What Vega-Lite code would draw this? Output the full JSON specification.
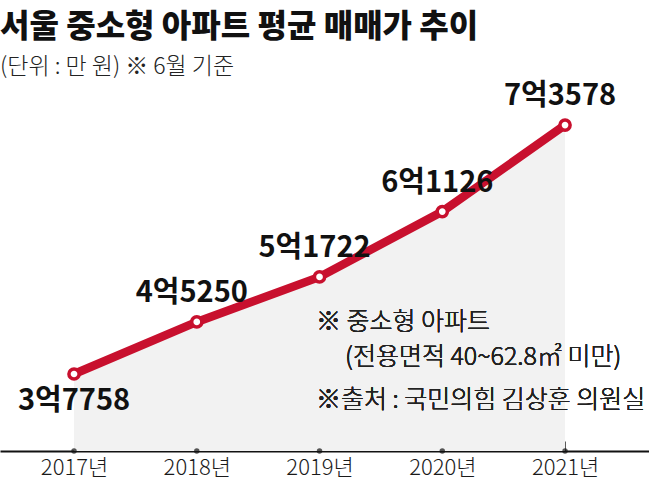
{
  "$schema": "https://vega.github.io/schema/vega-lite/v6.json",
  "autosize": "none",
  "padding": {"left": 0, "top": 100, "right": 0, "bottom": 42},
  "width": 649,
  "height": 351,
  "background": "white",
  "title": {
    "text": "서울 중소형 아파트 평균 매매가 추이",
    "subtitle": "(단위 : 만 원)  ※ 6월 기준",
    "anchor": "start",
    "frame": "group",
    "offset": 2,
    "font": "Noto Sans CJK KR",
    "fontSize": 32,
    "fontWeight": 900,
    "color": "#111111",
    "subtitleFont": "Noto Sans CJK KR",
    "subtitleFontSize": 23,
    "subtitleFontWeight": 300,
    "subtitleColor": "#222222",
    "subtitlePadding": 12
  },
  "config": {"view": {"stroke": null}},
  "data": {
    "values": [
      {"year": 2017, "price": 37758, "label": "3억7758"},
      {"year": 2018, "price": 45250, "label": "4억5250"},
      {"year": 2019, "price": 51722, "label": "5억1722"},
      {"year": 2020, "price": 61126, "label": "6억1126"},
      {"year": 2021, "price": 73578, "label": "7억3578"}
    ]
  },
  "encoding": {
    "x": {
      "field": "year",
      "type": "quantitative",
      "scale": {"domain": [2016.397, 2021.684], "nice": false, "zero": false},
      "axis": {
        "values": [2017, 2018, 2019, 2020, 2021],
        "labelExpr": "datum.value + '년'",
        "title": null,
        "grid": false,
        "domainColor": "#111111",
        "domainWidth": 2,
        "tickColor": "#555555",
        "tickWidth": 1,
        "tickSize": -10,
        "labelFont": "Noto Sans CJK KR",
        "labelFontSize": 22,
        "labelFontWeight": 300,
        "labelColor": "#1a1a1a",
        "labelPadding": 16,
        "labelFlush": false
      }
    },
    "y": {
      "field": "price",
      "type": "quantitative",
      "scale": {"domain": [26679, 77182], "nice": false, "zero": false},
      "axis": null
    }
  },
  "layer": [
    {
      "mark": {"type": "area", "color": "#f2f2f2"},
      "encoding": {"y2": {"datum": 26679}}
    },
    {
      "mark": {"type": "point", "filled": true, "color": "#111111", "size": 30},
      "encoding": {"y": {"datum": 26679}}
    },
    {
      "mark": {"type": "line", "color": "#c8102e", "strokeWidth": 8.5}
    },
    {
      "mark": {"type": "point", "filled": true, "fill": "white", "stroke": "#c8102e", "strokeWidth": 3.5, "size": 104, "opacity": 1}
    },
    {
      "transform": [{"filter": "datum.year == 2017"}],
      "mark": {"type": "text", "font": "Noto Sans CJK KR", "fontSize": 29, "fontWeight": "bold", "color": "#111111", "dy": 27, "align": "center", "baseline": "middle"},
      "encoding": {"text": {"field": "label"}}
    },
    {
      "transform": [{"filter": "datum.year != 2017"}],
      "mark": {"type": "text", "font": "Noto Sans CJK KR", "fontSize": 29, "fontWeight": "bold", "color": "#111111", "dy": -29, "dx": -5, "align": "center", "baseline": "middle"},
      "encoding": {"text": {"field": "label"}}
    },
    {
      "mark": {"type": "text", "font": "Noto Sans CJK KR", "fontSize": 25, "fontWeight": 300, "color": "#222222", "align": "left", "baseline": "middle"},
      "encoding": {"x": {"datum": 2018.971}, "y": {"datum": 45240}, "text": {"value": "※ 중소형 아파트"}}
    },
    {
      "mark": {"type": "text", "font": "Noto Sans CJK KR", "fontSize": 25, "fontWeight": 300, "color": "#222222", "align": "left", "baseline": "middle"},
      "encoding": {"x": {"datum": 2019.208}, "y": {"datum": 40204}, "text": {"value": "(전용면적 40~62.8㎡ 미만)"}}
    },
    {
      "mark": {"type": "text", "font": "Noto Sans CJK KR", "fontSize": 25, "fontWeight": 300, "color": "#222222", "align": "left", "baseline": "middle"},
      "encoding": {"x": {"datum": 2018.971}, "y": {"datum": 34017}, "text": {"value": "※출처 : 국민의힘 김상훈 의원실"}}
    }
  ]
}
